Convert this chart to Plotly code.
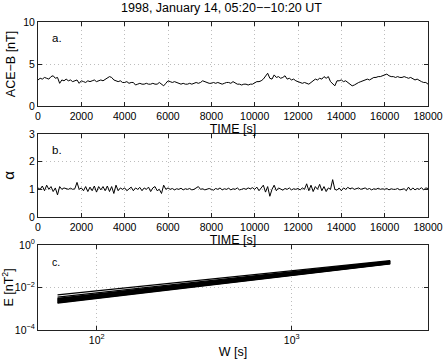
import plotly.graph_objects as go
from plotly.subplots import make_subplots

# ---------------- data ----------------
time_s = list(range(0, 18001, 100))

ace_b = [
    3.1, 3.3, 3.2, 3.4, 3.3, 3.2, 3.5, 3.6, 3.3, 3.4,
    2.7, 3.1, 3.0, 3.2, 3.0, 3.1, 2.9, 3.0, 3.1, 2.7,
    3.0, 2.9, 2.8, 3.0, 2.9, 3.0, 3.1, 2.9, 3.0, 3.1,
    3.0, 3.2, 3.3, 3.5, 3.4, 3.1, 3.0, 2.9, 3.0, 2.8,
    2.8, 2.9, 2.7, 2.8, 2.8, 2.5, 2.6, 2.7, 2.6, 2.6,
    2.7, 2.6, 2.6, 2.7, 2.6, 2.6, 2.8, 2.6, 2.4, 2.7,
    3.0, 2.9, 2.8, 2.9, 2.8, 2.7, 2.6, 2.7, 2.6, 2.6,
    2.7, 2.6, 2.7, 2.8, 2.7, 2.8, 3.0, 2.9, 2.8, 2.7,
    2.7, 2.8, 2.7, 2.8, 2.7, 2.6, 2.7, 2.8, 2.8, 2.7,
    2.9, 2.7, 2.6, 2.6, 2.5, 2.6, 2.6, 2.5, 2.6, 2.6,
    2.8, 2.9, 2.9, 3.0, 3.2, 3.6, 3.9, 3.3, 3.2, 3.7,
    3.4, 3.5, 3.3, 3.4, 3.6, 3.2, 3.3, 3.1, 3.2, 3.0,
    2.9, 2.8, 2.7, 2.8, 2.7, 2.6, 2.8, 3.0, 3.2, 3.1,
    3.3, 3.2, 3.5, 3.3, 3.5, 2.9, 2.7, 2.4, 3.0, 3.0,
    3.1, 2.9, 3.0, 2.8, 2.6, 2.4, 2.5, 2.7, 2.8, 2.9,
    3.0, 3.1, 3.2, 3.1, 3.3, 3.4, 3.4, 3.5, 3.5, 3.6,
    3.7, 3.8, 3.6, 3.5, 3.5, 3.4, 3.5, 3.4, 3.4, 3.5,
    3.4, 3.3, 3.4, 3.2, 3.1, 3.2, 3.0, 2.9, 2.8, 2.8,
    2.6,
]

alpha = [
    1.05, 1.00, 1.12, 0.95, 1.15, 1.00, 1.10, 0.92, 1.05, 0.80,
    1.10, 1.00, 1.05, 1.02, 1.00, 1.04, 1.00, 1.02, 1.25, 1.00,
    1.05, 0.95, 1.10, 0.92, 1.08, 0.95, 1.12, 0.90, 1.10, 0.98,
    1.10, 0.95, 1.12, 0.92, 1.10, 0.85, 1.15, 0.95, 1.05, 1.00,
    1.05, 0.95, 1.02, 1.08, 0.95, 1.05, 1.00, 1.07, 0.95, 1.05,
    1.00, 1.08, 0.92, 1.05, 1.10, 0.95, 1.00, 0.85, 1.15, 1.00,
    1.05, 1.00, 1.03, 0.98, 1.02, 1.00, 1.04, 0.98, 1.02, 1.00,
    1.03, 0.98, 1.00, 1.05, 1.10, 1.00, 1.02, 0.98, 1.00, 1.03,
    1.00, 0.97, 1.03, 1.00, 1.05, 0.98, 1.02, 1.00, 1.04, 0.98,
    1.02, 1.00, 1.05, 0.98, 1.00, 1.03, 1.00, 1.05, 1.02, 1.06,
    1.00, 1.08, 0.95, 1.05, 1.15, 0.90, 1.10, 0.75, 1.00, 1.15,
    0.95, 1.05, 1.00, 0.97, 1.03, 1.00, 1.05, 0.98, 1.02, 1.00,
    1.03, 0.98, 1.05, 1.00, 1.20, 0.95, 1.15, 0.92, 1.10, 1.00,
    1.18, 0.95, 1.10, 0.92, 1.05, 1.00, 1.35, 1.00, 0.97, 1.05,
    0.95, 1.05, 1.00, 1.07, 1.02, 1.05, 1.00, 1.03, 1.05, 1.00,
    1.02, 1.05, 1.00, 1.03, 0.98, 1.02, 1.00, 1.04, 1.00, 1.02,
    1.00, 1.03, 0.98, 1.02, 1.00, 1.00, 1.03, 0.98, 1.00, 1.02,
    0.95, 1.08, 0.97, 1.05, 0.98, 1.03, 1.00, 1.06, 0.98, 1.05,
    1.03,
]

# panel c: energy vs window width, one straight log-log line per series
w_span = [63, 3200]
e_first = [0.00447, 0.00355, 0.00309, 0.00288, 0.00275, 0.00257, 0.00245,
           0.00229, 0.00219, 0.00204, 0.00195, 0.00186]
e_last = [0.182, 0.174, 0.170, 0.166, 0.162, 0.155, 0.151, 0.145, 0.141,
          0.138, 0.132, 0.129]

time_ticks = [0, 2000, 4000, 6000, 8000, 10000, 12000, 14000, 16000, 18000]
time_ticklabels = ["0", "2000", "4000", "6000", "8000", "10000", "12000",
                   "14000", "16000", "18000"]

# ---------------- figure ----------------
FONT = "Liberation Sans, Arial, Helvetica, sans-serif"
fig = make_subplots(rows=3, cols=1, vertical_spacing=0.09)

fig.add_trace(go.Scatter(x=time_s, y=ace_b, mode="lines",
                         line=dict(color="black", width=1), showlegend=False),
              row=1, col=1)
fig.add_trace(go.Scatter(x=time_s, y=alpha, mode="lines",
                         line=dict(color="black", width=1), showlegend=False),
              row=2, col=1)
for a0, a1 in zip(e_first, e_last):
    fig.add_trace(go.Scatter(x=w_span, y=[a0, a1], mode="lines",
                             line=dict(color="black", width=1.3),
                             showlegend=False), row=3, col=1)

axis_common = dict(showline=True, linecolor="#222", linewidth=1, mirror="ticks",
                   ticks="inside", ticklen=4, tickcolor="#222",
                   showgrid=True, gridcolor="#bdbdbd", griddash="1px,3px",
                   gridwidth=1, zeroline=False, automargin=False,
                   tickfont=dict(size=10.5, color="black", family=FONT))

H = 308.0
def dom(top_px, bot_px):
    return [(330 - bot_px) / H, (330 - top_px) / H]

TF = dict(size=12.5, family=FONT, color="black")
fig.update_layout(
    xaxis=dict(**axis_common, range=[0, 18000], tickvals=time_ticks, ticktext=time_ticklabels,
               ticklabelstandoff=0,
               title=dict(text="TIME [s]", standoff=0, font=TF)),
    yaxis=dict(**axis_common, range=[0, 10], tickvals=[0, 5, 10], domain=dom(22, 106),
               title=dict(text="ACE−B [nT]", standoff=4, font=TF)),
    xaxis2=dict(**axis_common, range=[0, 18000], tickvals=time_ticks, ticktext=time_ticklabels,
                ticklabelstandoff=0,
                title=dict(text="TIME [s]", standoff=0, font=TF)),
    yaxis2=dict(**axis_common, range=[0, 3], tickvals=[0, 1, 2, 3], domain=dom(134, 217),
                title=dict(text="α", standoff=10, font=dict(size=15, family=FONT, color="black"))),
    xaxis3=dict(**axis_common, type="log", range=[1.699, 3.699],
                tickvals=[100, 1000], ticktext=["10<sup>2</sup>", "10<sup>3</sup>"],
                title=dict(text="W [s]", standoff=2, font=TF)),
    yaxis3=dict(**axis_common, type="log", range=[-4, 0], domain=dom(245, 330),
                tickvals=[1e-4, 1e-2, 1],
                ticktext=["10<sup>−4</sup>", "10<sup>−2</sup>", "10<sup>0</sup>"],
                title=dict(text="E [nT<sup>2</sup>]", standoff=2, font=TF)),
)

for i, lab in enumerate(["a.", "b.", "c."]):
    sfx = "" if i == 0 else str(i + 1)
    fig.add_annotation(text=lab, xref=f"x{sfx} domain", yref=f"y{sfx} domain",
                       x=0.03, y=0.9, xanchor="left", yanchor="top", showarrow=False,
                       font=dict(size=11.5 if i < 2 else 10.5, color="black", family=FONT))

fig.update_layout(
    width=443, height=359,
    margin=dict(l=38, r=15, t=22, b=29),
    paper_bgcolor="white", plot_bgcolor="white",
    font=dict(family=FONT, color="black"),
    title=dict(text="1998, January 14, 05:20−−10:20 UT", x=0.5, xanchor="center",
               y=0.99, yanchor="top", font=dict(size=12.5, family=FONT)),
    showlegend=False,
)

fig.write_html("out.html", config={"displayModeBar": False},
               post_script="document.body.style.margin='0';document.body.style.padding='0';")
